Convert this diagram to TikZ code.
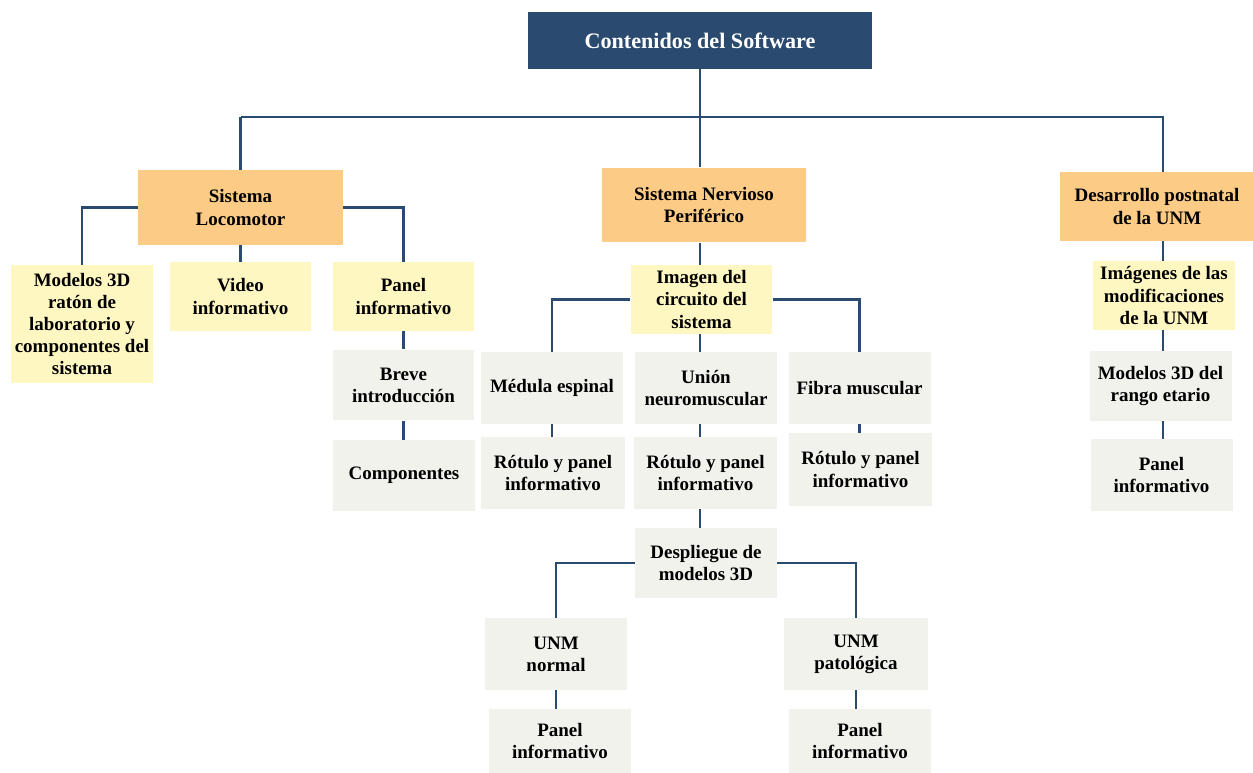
\documentclass[tikz,border=0pt]{standalone}
\usepackage{fontspec}
\setmainfont{Liberation Serif}
\usepackage{xcolor}
\usetikzlibrary{positioning}

\definecolor{navy}{HTML}{2B4A6F}
\definecolor{orangebox}{HTML}{FCCB85}
\definecolor{yellowbox}{HTML}{FFF7C2}
\definecolor{graybox}{HTML}{F2F2EC}

\tikzset{
  box/.style={inner sep=0pt, align=center, font=\bfseries\fontsize{10.8}{12.6}\selectfont,
    minimum width=2.84cm, minimum height=1.42cm},
  titlebox/.style={box, fill=navy, text=white, font=\bfseries\fontsize{12.6}{14}\selectfont,
    minimum width=6.9cm, minimum height=1.14cm},
  mainbox/.style={box, fill=orangebox, minimum width=4.1cm, minimum height=1.5cm},
  itembox/.style={box, fill=yellowbox, minimum height=1.38cm},
  leafbox/.style={box, fill=graybox},
  link/.style={draw=navy, line width=1.4pt}
}

\begin{document}
\begin{tikzpicture}[x=0.02cm, y=-0.02cm]
\useasboundingbox (0,0) rectangle (1253,773);

% Top level
\node[titlebox] (root) at (700,40.5) {Contenidos del Software};
\coordinate (bus) at (700,117);

% Main branches
\node[mainbox] (loco) at (240.5,207.5) {Sistema\\Locomotor};
\node[mainbox] (snp) at (704,205) {Sistema Nervioso\\Periférico};
\node[mainbox, minimum width=3.9cm, minimum height=1.38cm] (dev) at (1157,206.5) {Desarrollo postnatal\\de la UNM};

% Sistema Locomotor
\node[itembox, minimum height=2.36cm] (mod3d) at (82,324) {Modelos 3D\\ratón de\\laboratorio y\\componentes del\\sistema};
\node[itembox] (video) at (240.5,296.5) {Video\\informativo};
\node[itembox] (panL) at (403.5,296.5) {Panel\\informativo};
\node[leafbox] (breve) at (403.5,385) {Breve\\introducción};
\node[leafbox] (comp) at (404,475.5) {Componentes};

% Sistema Nervioso Periferico
\node[itembox] (img) at (701.5,299.5) {Imagen del\\circuito del\\sistema};
\node[leafbox, minimum height=1.44cm] (med) at (552,388) {Médula espinal};
\node[leafbox, minimum height=1.44cm] (union) at (706,388) {Unión\\neuromuscular};
\node[leafbox, minimum height=1.44cm] (fibra) at (859.5,388) {Fibra muscular};
\node[leafbox, minimum height=1.44cm, minimum width=2.88cm] (rot1) at (553,473) {Rótulo y panel\\informativo};
\node[leafbox, minimum height=1.44cm, minimum width=2.86cm] (rot2) at (705.5,473) {Rótulo y panel\\informativo};
\node[leafbox, minimum height=1.46cm, minimum width=2.86cm] (rot3) at (860.5,469.5) {Rótulo y panel\\informativo};
\node[leafbox, minimum height=1.4cm] (desp) at (706,563) {Despliegue de\\modelos 3D};
\node[leafbox, minimum height=1.44cm] (unmn) at (556,654) {UNM\\normal};
\node[leafbox, minimum height=1.44cm, minimum width=2.88cm] (unmp) at (856,654) {UNM\\patológica};
\node[leafbox, minimum height=1.28cm] (pan1) at (560,741) {Panel\\informativo};
\node[leafbox, minimum height=1.28cm] (pan2) at (860,741) {Panel\\informativo};

% Desarrollo postnatal
\node[itembox] (imgs) at (1164,295.5) {Imágenes de las\\modificaciones\\de la UNM};
\node[leafbox, minimum height=1.4cm] (mod3dr) at (1160.5,386) {Modelos 3D del\\rango etario};
\node[leafbox, minimum height=1.44cm] (panR) at (1161.5,475) {Panel\\informativo};

% Connectors
\draw[link] (root.south) -- (bus);
\draw[link] (loco.north |- bus) -- (1163,117 |- bus) -- (1163,0 |- dev.north);
\draw[link] (loco.north |- bus) -- (loco.north);
\draw[link] (bus) -- (bus |- snp.north);

\draw[link] (loco.west) -| (mod3d.north);
\draw[link] (loco.south) -- (loco.south |- video.north);
\draw[link] (loco.east) -| (panL.north);
\draw[link] (panL.south) -- (panL.south |- breve.north);
\draw[link] (breve.south) -- (breve.south |- comp.north);

\draw[link] (bus |- snp.south) -- (bus |- img.north);
\draw[link] (img.west) -| (med.north);
\draw[link] (img.east) -| (fibra.north);
\draw[link] (bus |- img.south) -- (bus |- union.north);
\draw[link] (med.south) -- (med.south |- rot1.north);
\draw[link] (bus |- union.south) -- (bus |- rot2.north);
\draw[link] (fibra.south) -- (fibra.south |- rot3.north);
\draw[link] (bus |- rot2.south) -- (bus |- desp.north);
\draw[link] (desp.west) -| (unmn.north);
\draw[link] (desp.east) -| (unmp.north);
\draw[link] (unmn.south) -- (unmn.south |- pan1.north);
\draw[link] (unmp.south) -- (unmp.south |- pan2.north);

\draw[link] (1163,0 |- dev.south) -- (1163,0 |- imgs.north);
\draw[link] (1163,0 |- imgs.south) -- (1163,0 |- mod3dr.north);
\draw[link] (1163,0 |- mod3dr.south) -- (1163,0 |- panR.north);
\end{tikzpicture}
\end{document}
